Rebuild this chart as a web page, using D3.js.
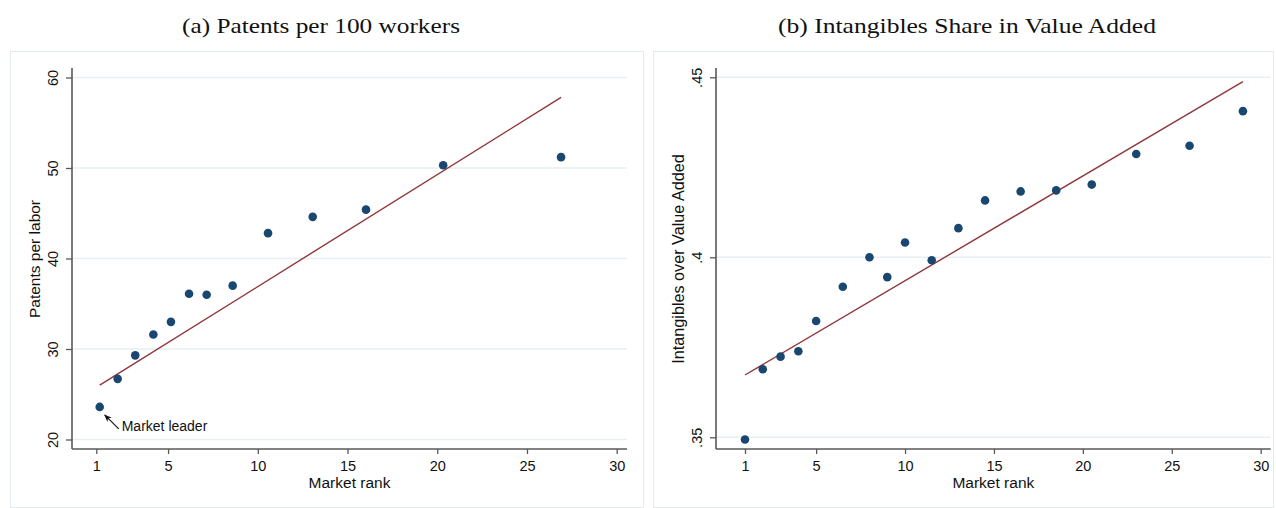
<!DOCTYPE html>
<html>
<head>
<meta charset="utf-8">
<script src="https://cdn.jsdelivr.net/npm/d3@7"></script>
<style>
  body { margin: 0; background: #fff; }
  svg { display: block; }
  .tick text { font-family: "Liberation Sans", Arial, sans-serif; fill: #111; }
</style>
</head>
<body>
<script>
// panel (a): patents per 100 workers by market rank
var rankA = [1.19, 2.19, 3.17, 4.18, 5.16, 6.17, 7.15, 8.6, 10.57, 13.06, 16.03, 20.33, 26.9];
var patentsA = [23.6, 26.7, 29.3, 31.6, 33.0, 36.1, 36.0, 37.0, 42.8, 44.6, 45.4, 50.3, 51.2];
var fitXA = [1.19, 26.9];
var fitYA = [26.0, 57.8];

// panel (b): intangibles share in value added by market rank
var rankB = [1, 2, 3, 4, 5, 6.5, 8, 9, 10, 11.5, 13, 14.5, 16.5, 18.5, 20.5, 23, 26, 29];
var shareB = [0.3494, 0.3689, 0.3724, 0.3739, 0.3823, 0.3918, 0.4000, 0.3945, 0.4041, 0.3992,
              0.4081, 0.4158, 0.4183, 0.4186, 0.4202, 0.4287, 0.4310, 0.4406];
var fitXB = [1, 29];
var fitYB = [0.3673, 0.4488];

var xTicks = [1, 5, 10, 15, 20, 25, 30];
var yTicksA = [20, 30, 40, 50, 60];
var yTicksB = [0.35, 0.40, 0.45];
var yLabelsB = [".35", ".4", ".45"];

var dotColor = "#1a476f";
var lineColor = "#90353b";
var axisColor = "#595959";
var gridColor = "#e6eff1";
var sans = "'Liberation Sans', Arial, sans-serif";

var svg = d3.select("body").append("svg")
    .attr("width", 1276)
    .attr("height", 508);

svg.append("rect").attr("width", 1276).attr("height", 508).attr("fill", "#fff");

function drawPanel(p) {
    var g = svg.append("g");

    // outer frame
    g.append("rect")
        .attr("x", p.frame[0] + 0.5).attr("y", p.frame[1] + 0.5)
        .attr("width", p.frame[2] - p.frame[0]).attr("height", p.frame[3] - p.frame[1])
        .attr("fill", "none").attr("stroke", "#e3ebed").attr("stroke-width", 1);

    // caption above the panel (serif, like the LaTeX subcaption)
    g.append("text")
        .attr("x", p.titleX)
        .attr("y", 33)
        .attr("text-anchor", "middle")
        .attr("textLength", p.titleW)
        .attr("lengthAdjust", "spacingAndGlyphs")
        .style("font-family", "'Liberation Serif', 'DejaVu Serif', serif")
        .style("font-size", "21px")
        .style("fill", "#111")
        .text(p.title);

    var x = d3.scaleLinear().domain([1, 30]).range(p.xRange);
    var y = d3.scaleLinear().domain(p.yDomain).range(p.yRange);

    // grid
    g.selectAll(".grid").data(p.yTicks).enter().append("line")
        .attr("x1", p.axisX).attr("x2", p.axisEnd)
        .attr("y1", function(d) { return y(d); })
        .attr("y2", function(d) { return y(d); })
        .attr("stroke", gridColor).attr("stroke-width", 1.5);

    // x axis
    var xa = g.append("g").attr("transform", "translate(0," + p.axisY + ")")
        .call(d3.axisBottom(x).tickValues(xTicks).tickSize(5).tickFormat(d3.format("d")));
    xa.select(".domain").remove();
    xa.selectAll(".tick line").attr("stroke", axisColor).attr("stroke-width", 1.3);
    xa.selectAll(".tick text").attr("y", 22).attr("dy", 0).style("font-size", "14.5px");
    g.append("line")
        .attr("x1", p.axisX).attr("x2", p.axisEnd)
        .attr("y1", p.axisY).attr("y2", p.axisY)
        .attr("stroke", axisColor).attr("stroke-width", 1.6);

    // y axis
    var ya = g.append("g").attr("transform", "translate(" + p.axisX + ",0)")
        .call(d3.axisLeft(y).tickValues(p.yTicks).tickSize(6).tickFormat(function(d, i) { return p.yLabels[i]; }));
    ya.select(".domain").remove();
    ya.selectAll(".tick line").attr("stroke", axisColor).attr("stroke-width", 1.3);
    ya.selectAll(".tick text")
        .attr("x", null).attr("dy", null)
        .attr("text-anchor", "middle")
        .attr("transform", "translate(-14,0) rotate(-90)")
        .style("font-size", "14.5px");
    g.append("line")
        .attr("x1", p.axisX).attr("x2", p.axisX)
        .attr("y1", 68).attr("y2", p.axisY)
        .attr("stroke", axisColor).attr("stroke-width", 1.6);

    // axis titles
    g.append("text")
        .attr("x", (p.axisX + p.axisEnd) / 2)
        .attr("y", 488)
        .attr("text-anchor", "middle")
        .style("font-family", sans).style("font-size", "15.5px").style("fill", "#111")
        .text("Market rank");
    g.append("text")
        .attr("transform", "translate(" + (p.axisX - p.yTitleOff) + "," + 259 + ") rotate(-90)")
        .attr("text-anchor", "middle")
        .style("font-family", sans).style("font-size", p.yTitleSize).style("fill", "#111")
        .text(p.yTitle);

    // fitted line
    g.append("line")
        .attr("x1", x(p.fitX[0])).attr("y1", y(p.fitY[0]))
        .attr("x2", x(p.fitX[1])).attr("y2", y(p.fitY[1]))
        .attr("stroke", lineColor).attr("stroke-width", 1.4);

    // points
    g.selectAll(".dot").data(p.xs).enter().append("circle")
        .attr("cx", function(d) { return x(d); })
        .attr("cy", function(d, i) { return y(p.ys[i]); })
        .attr("r", 4.3)
        .attr("fill", dotColor);

    return {x: x, y: y, g: g};
}

var panelA = drawPanel({
    frame: [10, 51, 643, 507],
    title: "(a) Patents per 100 workers", titleX: 321, titleW: 278,
    xRange: [96.3, 616.7], yDomain: [20, 60], yRange: [439.5, 77.5],
    axisX: 72, axisY: 449, axisEnd: 627, yTitleOff: 32, yTitleSize: "15.5px",
    yTicks: yTicksA, yLabels: yTicksA.map(String),
    yTitle: "Patents per labor",
    xs: rankA, ys: patentsA, fitX: fitXA, fitY: fitYA
});

drawPanel({
    frame: [653, 51, 1273, 507],
    title: "(b) Intangibles Share in Value Added", titleX: 967, titleW: 378,
    xRange: [745, 1260.7], yDomain: [0.35, 0.45], yRange: [437.3, 77.3],
    axisX: 716, axisY: 449, axisEnd: 1270.7, yTitleOff: 32.5, yTitleSize: "16.2px",
    yTicks: yTicksB, yLabels: yLabelsB,
    yTitle: "Intangibles over Value Added",
    xs: rankB, ys: shareB, fitX: fitXB, fitY: fitYB
});

// "Market leader" annotation on the first point of panel (a)
svg.append("defs").append("marker")
    .attr("id", "arrow")
    .attr("viewBox", "0 0 10 10")
    .attr("refX", 9).attr("refY", 5)
    .attr("markerWidth", 7).attr("markerHeight", 7)
    .attr("orient", "auto")
    .append("path").attr("d", "M0,1 L10,5 L0,9 L3,5 Z").attr("fill", "#111");

var lx = panelA.x(rankA[0]), ly = panelA.y(patentsA[0]);
panelA.g.append("line")
    .attr("x1", lx + 19).attr("y1", ly + 22)
    .attr("x2", lx + 5).attr("y2", ly + 8)
    .attr("stroke", "#111").attr("stroke-width", 1.1)
    .attr("marker-end", "url(#arrow)");
panelA.g.append("text")
    .attr("x", lx + 22).attr("y", ly + 24)
    .style("font-family", sans).style("font-size", "14px").style("fill", "#111")
    .text("Market leader");
</script>
</body>
</html>
